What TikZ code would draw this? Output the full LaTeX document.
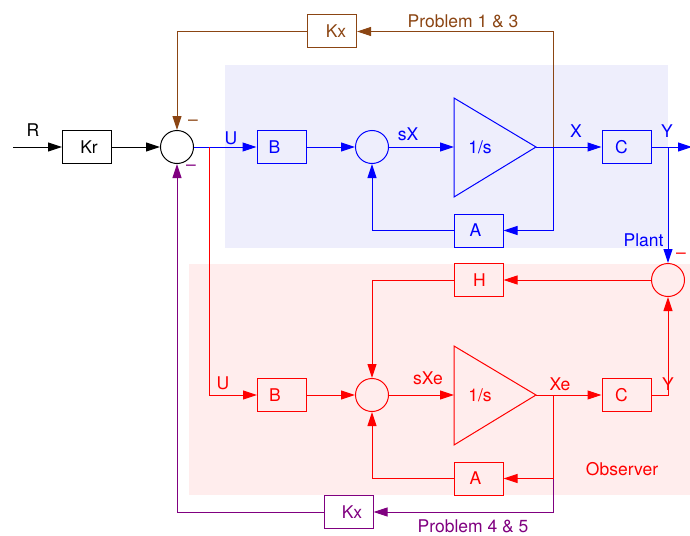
\documentclass[tikz,border=0pt]{standalone}
\usepackage{fontspec}
\setmainfont{TeX Gyre Heros}
\usetikzlibrary{arrows.meta}
\definecolor{brn}{HTML}{8B4513}
\definecolor{prp}{HTML}{800080}
\definecolor{bbg}{HTML}{EEEEFC}
\definecolor{rbg}{HTML}{FFEDED}
\begin{document}
\begin{tikzpicture}[x=1pt,y=-1pt,line width=1pt,
  font=\fontsize{17.5}{20}\selectfont,
  blk/.style={draw,minimum width=49pt,minimum height=33pt,inner sep=0pt},
  sumc/.style={circle,draw,minimum size=33pt,inner sep=0pt},
  arr/.style={-{Triangle[length=14pt,width=9pt]}},
  lbl/.style={inner sep=0pt}]
\useasboundingbox (0,0) rectangle (690,535);
% background regions
\fill[bbg] (225,65) rectangle (668,248);
\fill[rbg] (189,264) rectangle (690,495);
% nodes: top
\node[blk] (Kr) at (87,147) {\kern4pt Kr};
\node[sumc] (Sum1) at (177,147) {};
\node[blk,brn] (KxT) at (332,31.5) {\kern8pt Kx};
\node[blk,blue] (Bb) at (281.5,147) {B\kern14pt};
\node[sumc,blue] (Sum2) at (372,147) {};
\coordinate (T1in) at (454,147);
\coordinate (T1out) at (536,147);
\draw[blue] (454,98) -- (T1out) -- (454,197) -- cycle;
\node[blue,lbl] (T1) at (480,147) {1/s};
\node[blk,blue] (Cb) at (626.5,147) {C\kern10pt};
\node[blk,blue] (Ab) at (478.5,230.5) {A\kern6pt};
% nodes: observer
\node[sumc,red] (Sum3) at (668,280) {};
\node[blk,red] (H) at (478.5,280) {\kern2pt H};
\node[blk,red] (Br) at (282,395) {B\kern14pt};
\node[sumc,red] (Sum4) at (372,395) {};
\coordinate (T2in) at (454,395);
\coordinate (T2out) at (536,395);
\draw[red] (454,346) -- (T2out) -- (454,445) -- cycle;
\node[red,lbl] (T2) at (480,395) {1/s};
\node[blk,red] (Cr) at (626.5,395) {C\kern10pt};
\node[blk,red] (Ar) at (478.5,478.5) {A\kern6pt};
\node[blk,prp] (KxB) at (348.5,512) {\kern7pt Kx};
% junction coordinates
\coordinate (Rin) at (13,147);
\coordinate (J0) at (209,147);
\coordinate (J1) at (553,147);
\coordinate (J2) at (668,147);
\coordinate (Yout) at (692,147);
\coordinate (J3) at (553,395);
\coordinate (J4) at (553,478.5);
% connectors: black
\draw[arr] (Rin) -- (Kr.west);
\draw[arr] (Kr.east) -- (Sum1.west);
% blue plant
\draw[arr,blue] (Sum1.east) -- (Bb.west);
\draw[arr,blue] (Bb.east) -- (Sum2.west);
\draw[arr,blue] (Sum2.east) -- (T1in);
\draw[arr,blue] (T1out) -- (Cb.west);
\draw[arr,blue] (J1) |- (Ab.east);
\draw[arr,blue] (Ab.west) -| (Sum2.south);
\draw[arr,blue] (Cb.east) -- (Yout);
\draw[arr,blue] (J2) -- (Sum3.north);
% brown feedback
\draw[arr,brn] (J1) |- (KxT.east);
\draw[arr,brn] (KxT.west) -| (Sum1.north);
% red observer
\draw[arr,red] (J0) |- (Br.west);
\draw[arr,red] (Sum3.west) -- (H.east);
\draw[arr,red] (H.west) -| (Sum4.north);
\draw[arr,red] (Br.east) -- (Sum4.west);
\draw[arr,red] (Sum4.east) -- (T2in);
\draw[arr,red] (T2out) -- (Cr.west);
\draw[arr,red] (Cr.east) -| (Sum3.south);
\draw[arr,red] (J3) |- (Ar.east);
\draw[arr,red] (Ar.west) -| (Sum4.south);
% purple feedback
\draw[arr,prp] (J4) |- (KxB.east);
\draw[arr,prp] (KxB.west) -| (Sum1.south);
% labels
\node[lbl] (lR) at (33,130) {R};
\node[lbl,blue] (lU1) at (231,138) {U};
\node[lbl,blue] (lsX) at (408,134) {sX};
\node[lbl,blue] (lX) at (576,131) {X};
\node[lbl,blue] (lY1) at (667,131) {Y};
\node[lbl,blue,anchor=east] (lPlant) at (664,240) {Plant};
\node[lbl,brn] (lP13) at (463,21) {Problem 1 \& 3};
\node[lbl,brn] (m1) at (193,123) {–};
\node[lbl,prp] (m2) at (191,168) {–};
\node[lbl,red] (m3) at (681,256) {–};
\node[lbl,red] (lU2) at (223,383) {U};
\node[lbl,red] (lsXe) at (428,378) {sXe};
\node[lbl,red] (lXe) at (560,384) {Xe};
\node[lbl,red] (lY2) at (668,384) {Y};
\node[lbl,red] (lObs) at (622,469) {Observer};
\node[lbl,prp] (lP45) at (473,526) {Problem 4 \& 5};
\end{tikzpicture}
\end{document}
